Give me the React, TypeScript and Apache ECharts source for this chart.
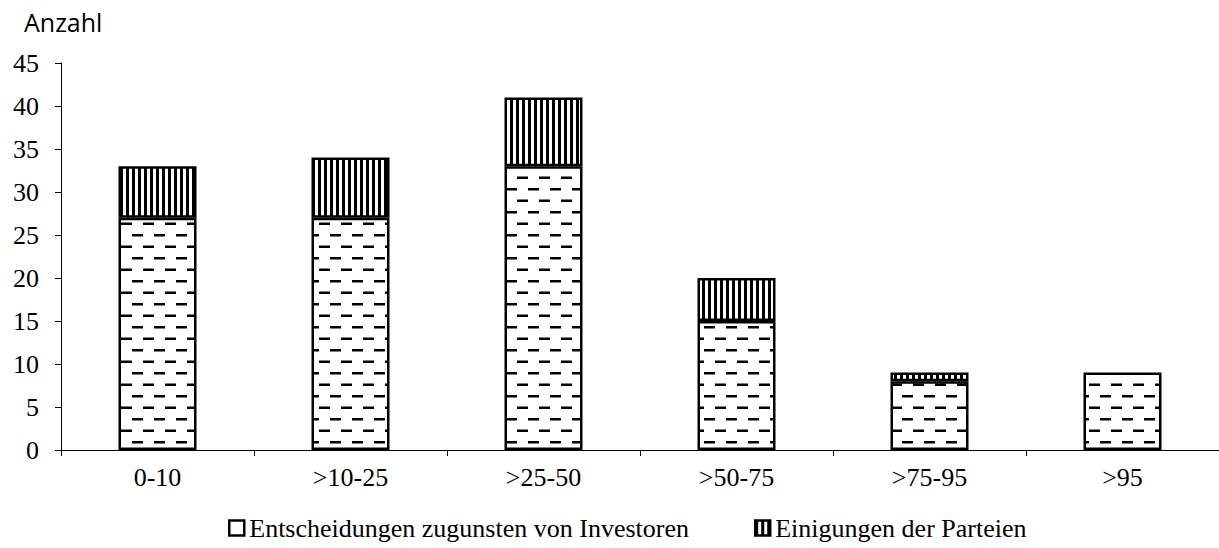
import React, { useEffect, useRef } from "react";
import * as echarts from "echarts";

const categories = ["0-10", ">10-25", ">25-50", ">50-75", ">75-95", ">95"];
const investorDecisions = [27, 27, 33, 15, 8, 9];
const settlements = [6, 7, 8, 5, 1, 0];
const seriesNames = ["Entscheidungen zugunsten von Investoren", "Einigungen der Parteien"];
const yTicks = { min: 0, max: 45, interval: 5 };

function makeDashPattern(): HTMLCanvasElement {
  const c = document.createElement("canvas");
  c.width = 22;
  c.height = 23;
  const ctx = c.getContext("2d")!;
  ctx.fillStyle = "#fff";
  ctx.fillRect(0, 0, 22, 23);
  ctx.fillStyle = "#000";
  ctx.fillRect(0, 4, 11, 2.5);
  ctx.fillRect(11, 15.5, 11, 2.5);
  return c;
}

function makeStripePattern(): HTMLCanvasElement {
  const c = document.createElement("canvas");
  c.width = 6;
  c.height = 6;
  const ctx = c.getContext("2d")!;
  ctx.fillStyle = "#fff";
  ctx.fillRect(0, 0, 6, 6);
  ctx.fillStyle = "#000";
  ctx.fillRect(0, 0, 3, 6);
  return c;
}

export default function App() {
  const ref = useRef<HTMLDivElement>(null);
  useEffect(() => {
    if (!ref.current) return;
    const chart = echarts.init(ref.current, null, { renderer: "svg" });
    const dash = { image: makeDashPattern(), repeat: "repeat" } as any;
    const stripes = { image: makeStripePattern(), repeat: "repeat" } as any;
    const serif = "'Liberation Serif', 'Times New Roman', serif";
    chart.setOption({
      animation: false,
      backgroundColor: "#fff",
      grid: { left: 61, right: 0, top: 63, bottom: 98, containLabel: false },
      graphic: [
        {
          type: "text",
          left: 24,
          top: 9,
          style: { text: "Anzahl", font: "25px 'Open Sans', sans-serif", fill: "#000" },
        },
      ],
      legend: {
        top: 510,
        left: 223,
        itemWidth: 15,
        itemHeight: 15,
        itemGap: 65,
        icon: "rect",
        textStyle: { fontFamily: serif, fontSize: 26, color: "#000", padding: [0, 0, 6, 0] },
        data: [
          { name: seriesNames[0], itemStyle: { color: "#fff", borderColor: "#000", borderWidth: 2.5 } },
          { name: seriesNames[1], itemStyle: { color: stripes, borderColor: "#000", borderWidth: 2.5 } },
        ],
      },
      xAxis: {
        type: "category",
        data: categories,
        axisLine: { lineStyle: { color: "#000", width: 1 } },
        axisTick: { show: true, length: 6, lineStyle: { color: "#000" } },
        axisLabel: { fontFamily: serif, fontSize: 26, color: "#000", margin: 14 },
      },
      yAxis: {
        type: "value",
        min: yTicks.min,
        max: yTicks.max,
        interval: yTicks.interval,
        splitLine: { show: false },
        axisLine: { show: true, lineStyle: { color: "#000", width: 1 } },
        axisTick: { show: true, length: 6, lineStyle: { color: "#000" } },
        axisLabel: { fontFamily: serif, fontSize: 26, color: "#000", margin: 22 },
      },
      series: [
        {
          name: seriesNames[0],
          type: "bar",
          stack: "total",
          barWidth: 78,
          data: investorDecisions,
          itemStyle: { color: dash, borderColor: "#000", borderWidth: 2.5 },
        },
        {
          name: seriesNames[1],
          type: "bar",
          stack: "total",
          barWidth: 78,
          data: settlements.map((v) => (v === 0 ? { value: v, itemStyle: { borderWidth: 0 } } : v)),
          itemStyle: { color: stripes, borderColor: "#000", borderWidth: 2.5 },
        },
      ],
    });
    return () => chart.dispose();
  }, []);
  return <div ref={ref} style={{ width: 1219, height: 548, position: "absolute", left: 0, top: 0 }} />;
}
